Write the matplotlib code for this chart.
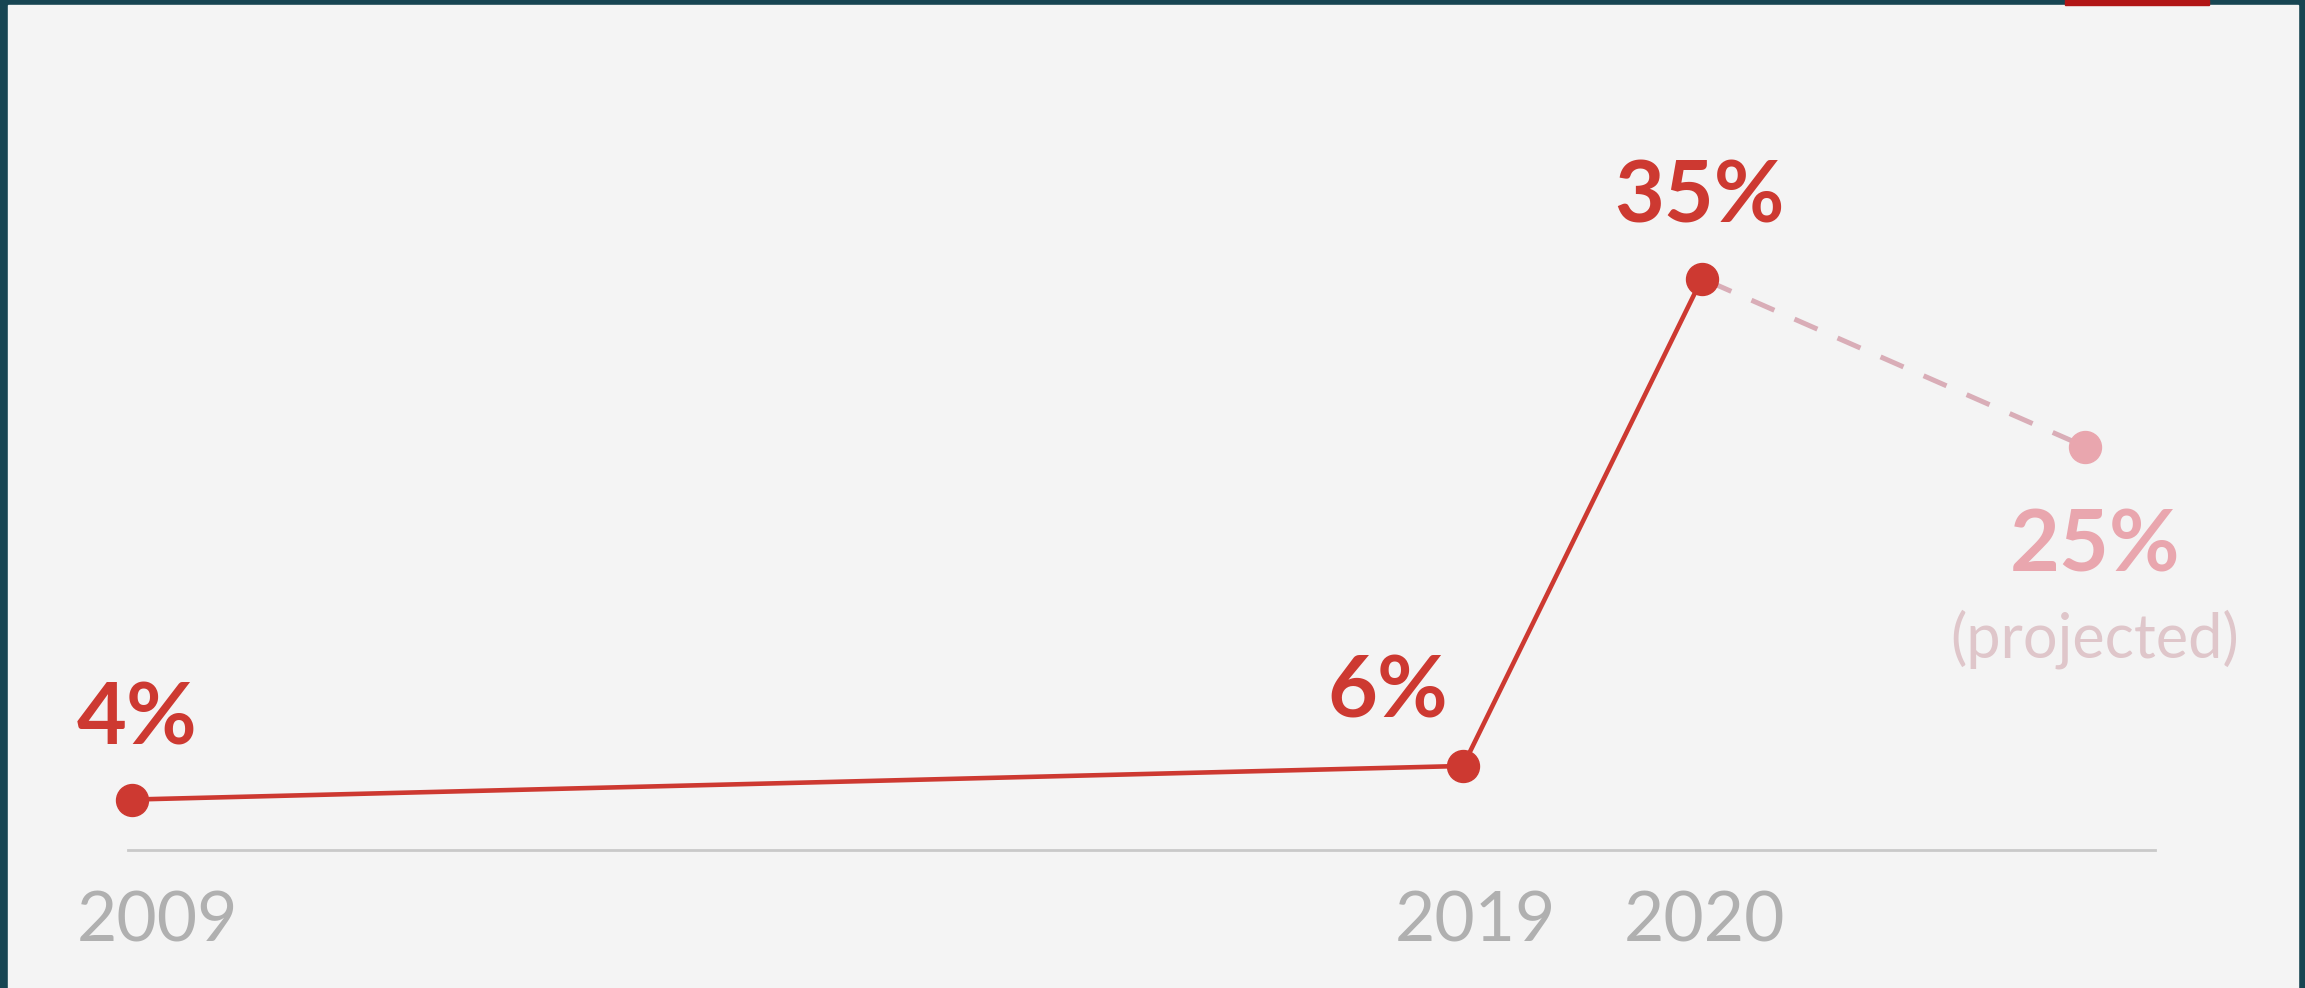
import numpy as np
import matplotlib
matplotlib.use("Agg")
from matplotlib import pyplot as plt
from matplotlib.patches import Rectangle
from matplotlib.scale import FuncScale

# data
years = [2009, 2019, 2020]
share = [4, 6, 35]
proj_year = [2020, 2021]
proj_share = [35, 25]
year_labels = ["2009", "2019", "2020"]

plt.rcParams['font.family'] = ['Lato', 'DejaVu Sans']

W, H = 2305, 988
fig = plt.figure(figsize=(W / 100, H / 100), dpi=100)
fig.patch.set_facecolor("#174552")

# light panel + little red tab at top
fig.add_artist(Rectangle((8 / W, 0), (2298 - 8) / W, (H - 5) / H,
                         transform=fig.transFigure, color="#f4f4f4", zorder=0))
fig.add_artist(Rectangle((2065 / W, (H - 5) / H), 144 / W, 5 / H,
                         transform=fig.transFigure, color="#b11515", zorder=0))

ax = fig.add_axes([128 / W, 138 / H, (2155 - 128) / W, (850 - 60) / H])
ax.set_facecolor("none")

# compressed time axis (the last years get more room)
yr_nodes = [2008.9, 2009, 2019, 2020, 2021, 2021.2]
px_nodes = [0, 4, 1335, 1574, 1957, 2027]
ax.set_xscale(FuncScale(ax, (lambda x: np.interp(x, yr_nodes, px_nodes),
                             lambda p: np.interp(p, px_nodes, yr_nodes))))
ax.set_xlim(2008.9, 2021.2)
ax.set_ylim(1.0, 48.0)

red = "#cd3931"
pink = "#e9a6ae"

ax.plot(proj_year, proj_share, color="#d9adb7", lw=3.6, linestyle=(8.0, (5.0, 4.4)), zorder=2)
ax.plot(proj_year[1:], proj_share[1:], "o", color=pink, ms=23, zorder=3, clip_on=False)
ax.plot(years, share, color=red, lw=3.3, zorder=4, clip_on=False)
ax.plot(years, share, "o", color=red, ms=23, zorder=5, clip_on=False)

for s in ["top", "left", "right"]:
    ax.spines[s].set_visible(False)
ax.spines["bottom"].set_color("#c9c9c9")
ax.spines["bottom"].set_linewidth(2)
ax.set_xticks([])
ax.set_yticks([])

# value labels
lab = dict(fontsize=62, fontweight="bold", textcoords="offset points")
ax.annotate("4%", (years[0], share[0]), xytext=(-40, 40), ha="left", va="baseline", color=red, **lab)
ax.annotate("6%", (years[1], share[1]), xytext=(-11, 35), ha="right", va="baseline", color=red, **lab)
ax.annotate("35%", (years[2], share[2]), xytext=(-2, 40), ha="center", va="baseline", color=red, **lab)
ax.annotate("25%", (proj_year[1], proj_share[1]), xytext=(7, -44), ha="center", va="top", color=pink, **lab)
ax.annotate("(projected)", (proj_year[1], proj_share[1]), xytext=(7, -152), ha="center", va="baseline",
            textcoords="offset points", fontsize=44, fontweight="normal", color="#dfc6ca")

# year labels under the baseline
offs = [(-40, "left"), (9, "center"), (2, "center")]
for yr, txt, (dx, ha) in zip(years, year_labels, offs):
    ax.annotate(txt, (yr, 0), xycoords=("data", "axes fraction"), xytext=(dx, -52),
                textcoords="offset points", ha=ha, va="center",
                fontsize=50, fontweight="normal", color="#b0b0b0")

fig.savefig("out.png", dpi=100, facecolor=fig.get_facecolor())
